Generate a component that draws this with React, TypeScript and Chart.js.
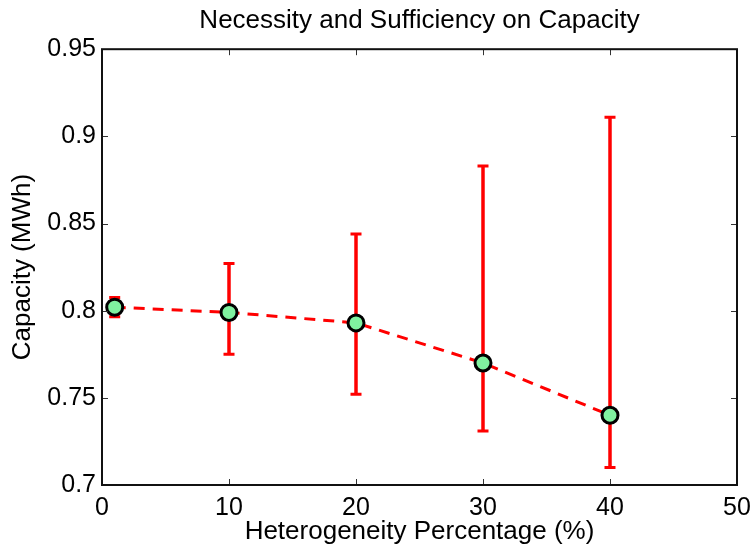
import React, { useEffect, useRef } from 'react';
import { Chart, registerables } from 'chart.js';

Chart.register(...registerables);

const xValues = [1, 10, 20, 30, 40];
const meanCapacity = [0.802, 0.799, 0.793, 0.770, 0.740];
const upperCapacity = [0.8075, 0.827, 0.844, 0.883, 0.911];
const lowerCapacity = [0.7965, 0.775, 0.752, 0.731, 0.710];
const xTicks = [0, 10, 20, 30, 40, 50];
const xTickLabels = ['0', '10', '20', '30', '40', '50'];
const yTicks = [0.7, 0.75, 0.8, 0.85, 0.9, 0.95];
const yTickLabels = ['0.7', '0.75', '0.8', '0.85', '0.9', '0.95'];

const FONT = "'Liberation Sans', Arial, Helvetica, sans-serif";

const errorBarPlugin = {
  id: 'errorBars',
  beforeDatasetsDraw(chart: any) {
    const { ctx } = chart;
    const xs = chart.scales.x;
    const ys = chart.scales.y;
    ctx.save();
    ctx.strokeStyle = '#ff0000';
    ctx.lineCap = 'butt';
    for (let i = 0; i < xValues.length; i++) {
      const px = xs.getPixelForValue(xValues[i]);
      const pTop = ys.getPixelForValue(upperCapacity[i]);
      const pBot = ys.getPixelForValue(lowerCapacity[i]);
      ctx.lineWidth = 3.5;
      ctx.beginPath();
      ctx.moveTo(px, pTop);
      ctx.lineTo(px, pBot);
      ctx.stroke();
      ctx.lineWidth = 3;
      ctx.beginPath();
      ctx.moveTo(px - 5.5, pTop);
      ctx.lineTo(px + 5.5, pTop);
      ctx.moveTo(px - 5.5, pBot);
      ctx.lineTo(px + 5.5, pBot);
      ctx.stroke();
    }
    ctx.restore();
  },
};

const boxPlugin = {
  id: 'matlabBox',
  afterDraw(chart: any) {
    const { ctx, chartArea } = chart;
    const { left, right, top, bottom } = chartArea;
    const xs = chart.scales.x;
    const ys = chart.scales.y;
    ctx.save();
    ctx.strokeStyle = '#333';
    ctx.lineWidth = 1;
    const tl = 6;
    ctx.beginPath();
    xTicks.forEach((v) => {
      const px = Math.round(xs.getPixelForValue(v)) + 0.5;
      ctx.moveTo(px, bottom);
      ctx.lineTo(px, bottom - tl);
      ctx.moveTo(px, top);
      ctx.lineTo(px, top + tl);
    });
    yTicks.forEach((v) => {
      const py = Math.round(ys.getPixelForValue(v)) + 0.5;
      ctx.moveTo(left, py);
      ctx.lineTo(left + tl, py);
      ctx.moveTo(right, py);
      ctx.lineTo(right - tl, py);
    });
    ctx.stroke();
    ctx.strokeStyle = '#111';
    ctx.lineWidth = 2;
    ctx.strokeRect(left, top, right - left, bottom - top);
    ctx.restore();
  },
};

export default function App() {
  const canvasRef = useRef<HTMLCanvasElement | null>(null);

  useEffect(() => {
    const canvas = canvasRef.current;
    if (!canvas) return;
    const points = xValues.map((x, i) => ({ x, y: meanCapacity[i] }));
    const chart = new Chart(canvas, {
      type: 'line',
      data: {
        datasets: [
          {
            label: 'Mean line',
            data: points,
            borderColor: '#ff0000',
            borderWidth: 3,
            borderDash: [11, 8],
            pointRadius: 0,
            fill: false,
            tension: 0,
            order: 2,
          },
          {
            label: 'Mean',
            data: points,
            showLine: false,
            pointRadius: 8,
            pointBorderWidth: 3,
            pointBackgroundColor: '#80f2a0',
            pointBorderColor: '#000000',
            order: 1,
          },
        ],
      },
      options: {
        animation: false,
        responsive: false,
        devicePixelRatio: 1,
        layout: { padding: { left: 0, right: 16, top: 0, bottom: 0 } },
        plugins: {
          legend: { display: false },
          tooltip: { enabled: false },
          title: {
            display: true,
            fullSize: false,
            text: 'Necessity and Sufficiency on Capacity',
            color: '#000',
            font: { family: FONT, size: 26, weight: 'normal' },
            padding: { top: 5, bottom: 13 },
          },
        },
        scales: {
          x: {
            type: 'linear',
            min: 0,
            max: 50,
            afterBuildTicks: (s: any) => {
              s.ticks = xTicks.map((v) => ({ value: v }));
            },
            afterFit: (s: any) => {
              s.height = 63;
              s.paddingLeft = 0;
              s.paddingRight = 0;
            },
            ticks: {
              color: '#000',
              font: { family: FONT, size: 25 },
              padding: 8,
              maxRotation: 0,
              autoSkip: false,
              callback: (v: any) => xTickLabels[xTicks.indexOf(Number(v))] ?? '',
            },
            grid: { display: false, drawTicks: false },
            border: { display: false },
            title: {
              display: true,
              text: 'Heterogeneity Percentage (%)',
              color: '#000',
              font: { family: FONT, size: 26 },
              padding: { top: 0, bottom: 1 },
            },
          },
          y: {
            type: 'linear',
            min: 0.7,
            max: 0.95,
            afterBuildTicks: (s: any) => {
              s.ticks = yTicks.map((v) => ({ value: v }));
            },
            afterFit: (s: any) => {
              s.width = 102;
              s.paddingTop = 0;
              s.paddingBottom = 0;
            },
            ticks: {
              color: '#000',
              font: { family: FONT, size: 25 },
              padding: 6,
              autoSkip: false,
              callback: (v: any) => {
                const idx = yTicks.findIndex((t) => Math.abs(t - Number(v)) < 1e-9);
                return idx >= 0 ? yTickLabels[idx] : '';
              },
            },
            grid: { display: false, drawTicks: false },
            border: { display: false },
            title: {
              display: true,
              text: 'Capacity (MWh)',
              color: '#000',
              font: { family: FONT, size: 26 },
              padding: { top: 7, bottom: 0 },
            },
          },
        },
      },
      plugins: [errorBarPlugin, boxPlugin],
    });
    return () => chart.destroy();
  }, []);

  return (
    <div style={{ position: 'fixed', left: 0, top: 0, width: 753, height: 548, background: '#fff' }}>
      <canvas ref={canvasRef} width={753} height={548} />
    </div>
  );
}
